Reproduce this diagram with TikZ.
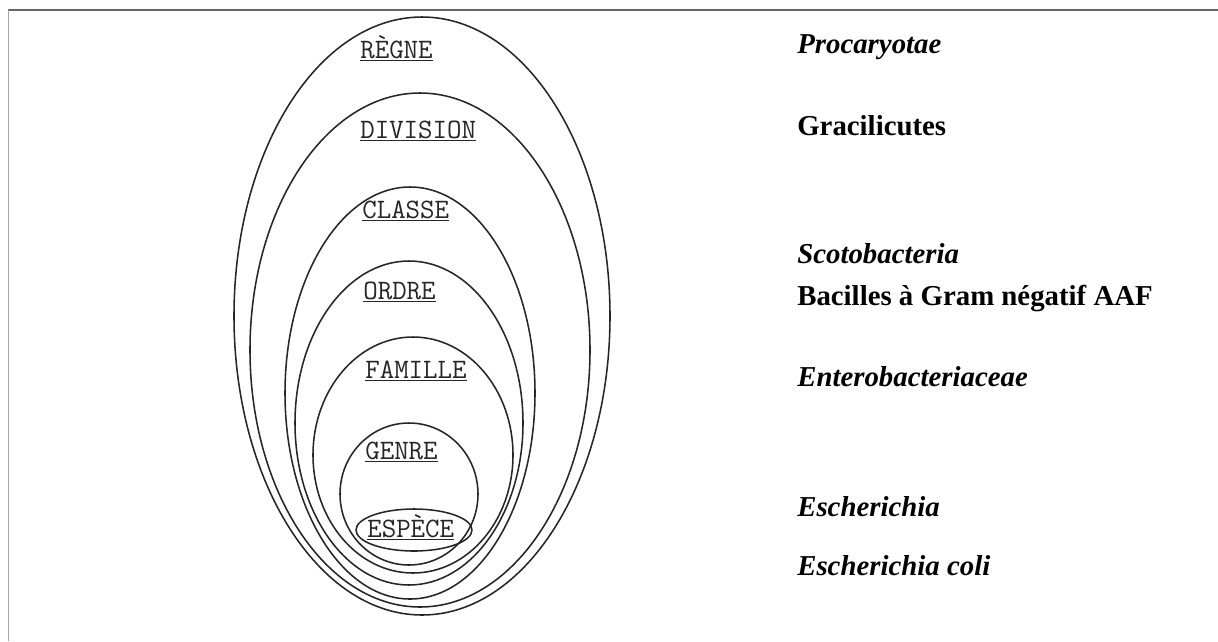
\documentclass[tikz,border=0pt]{standalone}
\usepackage{fontspec}
\setmainfont{Liberation Serif}
\usepackage{tikz}
\usetikzlibrary{positioning}
\tikzset{
  % Nested ranks
  shell/.style={draw=black!85, line width=1.1pt},
  rank/.style={anchor=base west, inner sep=0pt, font=\ttfamily\fontsize{20}{22}\selectfont, text=black!85},
  % Taxon names on the right
  taxon/.style={anchor=base west, inner sep=0pt, font=\bfseries\fontsize{20.5}{24}\selectfont},
  taxonit/.style={taxon, font=\bfseries\itshape\fontsize{20.5}{24}\selectfont},
  frame/.style={line width=1.2pt},
}

\begin{document}
\begin{tikzpicture}[x=0.025cm, y=-0.025cm]
    \useasboundingbox (0,0) rectangle (1218,641);

    % Frame (top and left only)
    \draw[frame, draw=black!60] (8,10) -- (1218,10);
    \draw[frame, draw=black!35] (8.5,10) -- (8.5,641);

    % Ellipses, outer to inner: cx/cy/rx/ry
    \foreach \cx/\cy/\rx/\ry in {422/316/188/299, 420/350/170/257, 410/393/125/206,
                                 409/423/114/162, 413/455/100/118, 409/494/69/71, 414/530/58/21}
      \draw[shell] (\cx,\cy) ellipse [x radius=\rx, y radius=\ry];

    % Rank labels
    \node[rank] (regne)    at (360,58)  {\underline{RÈGNE}};
    \node[rank] (division) at (360,138) {\underline{DIVISION}};
    \node[rank] (classe)   at (362,218) {\underline{CLASSE}};
    \node[rank] (ordre)    at (363,299) {\underline{ORDRE}};
    \node[rank] (famille)  at (365,378) {\underline{FAMILLE}};
    \node[rank] (genre)    at (365,459) {\underline{GENRE}};
    \node[rank] (espece)   at (367,537) {\underline{ESPÈCE}};

    % Taxa
    \node[taxonit] (procaryotae) at (797,53)  {Procaryotae};
    \node[taxon]   (gracilicutes) at (797,135) {Gracilicutes};
    \node[taxonit] (scoto)  at (797,263) {Scotobacteria};
    \node[taxon]   (bacilles) at (797,305) {Bacilles à Gram négatif AAF};
    \node[taxonit] (entero) at (797,386) {Enterobacteriaceae};
    \node[taxonit] (genus)  at (797,516) {Escherichia};
    \node[taxonit] (coli)   at (797,575) {Escherichia coli};
  \end{tikzpicture}
\end{document}
